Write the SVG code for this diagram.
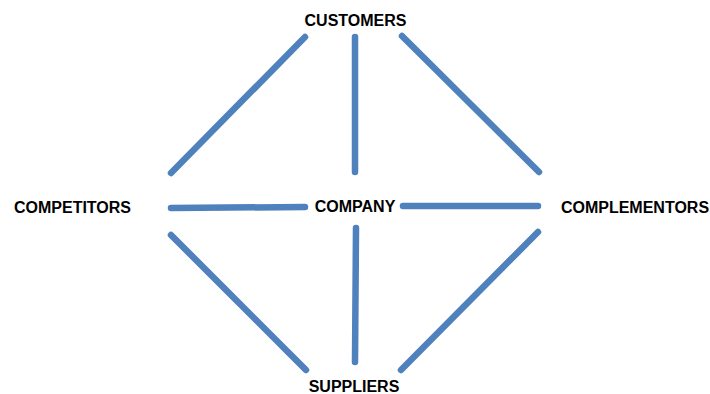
<svg xmlns="http://www.w3.org/2000/svg" width="710" height="394" viewBox="0 0 710 394">
<style>
.lbl{font-family:"Liberation Sans",Arial,sans-serif;font-weight:bold;font-size:16px;fill:#000;text-anchor:middle}
.conn line{stroke:#4f81bd;stroke-width:6.5;stroke-linecap:round}
</style>
<rect width="710" height="394" fill="#fff"/>
<g id="connectors" class="conn">
<line x1="305" y1="37" x2="171" y2="173"/>
<line x1="355" y1="37" x2="355" y2="172"/>
<line x1="402" y1="36" x2="539" y2="172"/>
<line x1="171" y1="208" x2="305" y2="207"/>
<line x1="403" y1="206" x2="538" y2="206"/>
<line x1="171" y1="235" x2="306" y2="370"/>
<line x1="356" y1="228" x2="355" y2="362"/>
<line x1="401" y1="370" x2="538" y2="232"/>
</g>
<g id="customers"><text class="lbl" x="355.5" y="26">CUSTOMERS</text></g>
<g id="competitors"><text class="lbl" x="72.5" y="213">COMPETITORS</text></g>
<g id="company"><text class="lbl" x="355" y="212">COMPANY</text></g>
<g id="complementors"><text class="lbl" x="635" y="213">COMPLEMENTORS</text></g>
<g id="suppliers"><text class="lbl" x="354" y="392">SUPPLIERS</text></g>
</svg>
